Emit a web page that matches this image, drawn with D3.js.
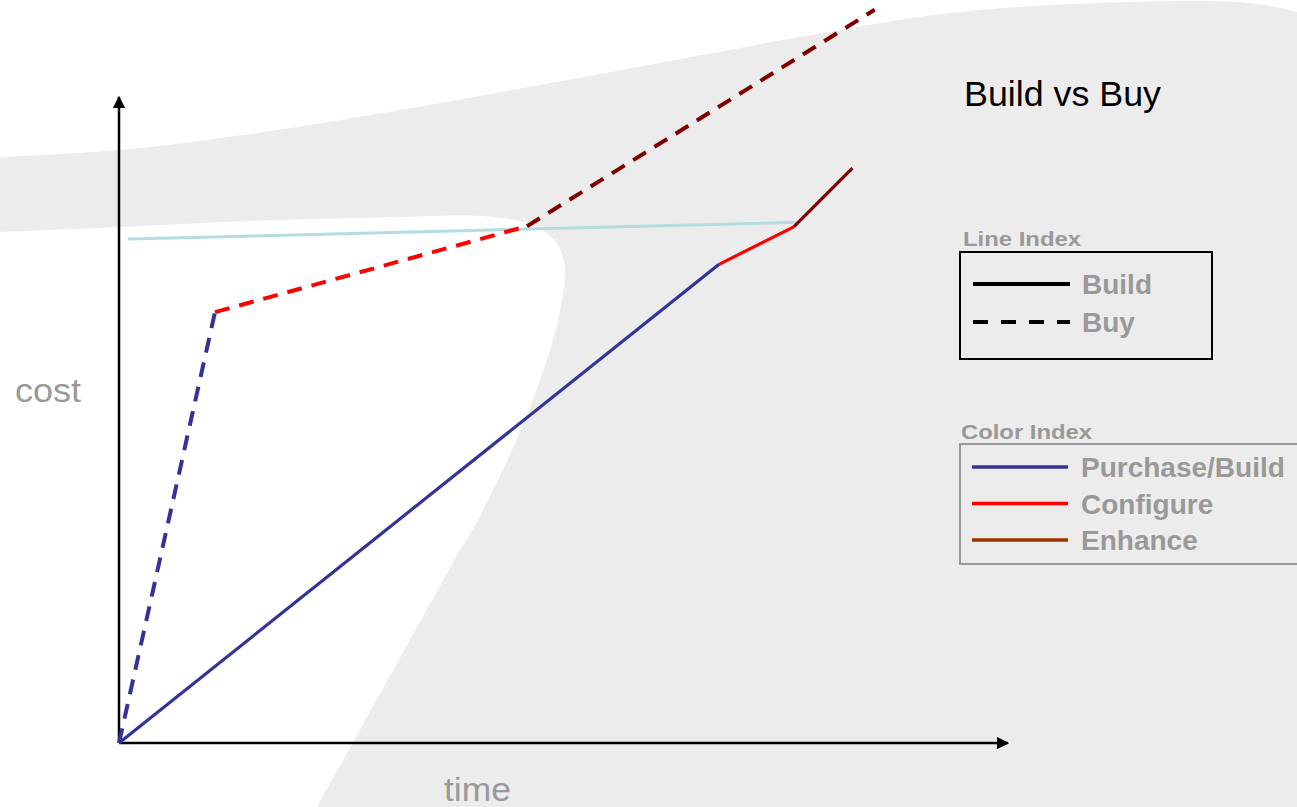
<!DOCTYPE html>
<html>
<head>
<meta charset="utf-8">
<script src="https://cdn.jsdelivr.net/npm/d3@7"></script>
<style>
	html, body { margin: 0; padding: 0; background: #ececec; overflow: hidden; }
	svg { display: block; font-family: "Liberation Sans", Arial, sans-serif; }
</style>
</head>
<body>
<div class="graphic"><div class="graphic__vis"></div></div>
<script>
// cost over time, in chart units (time 0..10, cost 0..10)
var buildPurchase = [[0, 0], [6.75, 7.41]]
var buildConfigure = [[6.75, 7.41], [7.59, 7.99]]
var buildEnhance = [[7.59, 7.99], [8.25, 8.9]]

var buyPurchase = [[0, 0], [1.08, 6.67]]
var buyConfigure = [[1.08, 6.67], [4.59, 8.0]]
var buyEnhance = [[4.59, 8.0], [8.5, 11.35]]

var breakEven = [[0.1, 7.8], [7.63, 8.06]]

var lineIndex = ['Build', 'Buy']
var colorIndex = ['Purchase/Build', 'Configure', 'Enhance']
var colorValues = ['#333399', '#ff0000', '#993300']

window.createGraphic = function() {
	var width = 1297
	var height = 807
	var origin = { x: 119, y: 743 }
	var grey = '#999999'

	var svg = d3.select('.graphic__vis').append('svg')
		.attr('width', width)
		.attr('height', height)

	// background swooshes (decoration only)
	var bgLine = d3.line().curve(d3.curveCatmullRom)
	var topShape = [[0, 157], [120, 150], [250, 134], [400, 110], [600, 74], [800, 37], [950, 13], [1100, 3], [1250, 3], [1297, 12]]
	svg.append('path')
		.attr('d', bgLine(topShape) + 'L1297,0L0,0Z')
		.attr('fill', '#ffffff')
	var swoosh = [[0, 232], [120, 227], [250, 221], [400, 217], [480, 216], [530, 224], [556, 242], [565, 268], [562, 300], [553, 340], [525, 420], [478, 520], [460, 550]]
	svg.append('path')
		.attr('d', bgLine(swoosh) + 'L317,807L0,807Z')
		.attr('fill', '#ffffff')

	var scaleX = d3.scaleLinear().domain([0, 10]).range([origin.x, 1008])
	var scaleY = d3.scaleLinear().domain([0, 10]).range([origin.y, 97])

	var line = d3.line()
		.x(function(d) { return scaleX(d[0]) })
		.y(function(d) { return scaleY(d[1]) })

	// axes with arrowheads
	var defs = svg.append('defs')
	defs.append('marker')
		.attr('id', 'arrow')
		.attr('viewBox', '0 0 10 10')
		.attr('refX', 9).attr('refY', 5)
		.attr('markerWidth', 5).attr('markerHeight', 5)
		.attr('markerUnits', 'strokeWidth')
		.attr('orient', 'auto')
		.append('path')
		.attr('d', 'M0,0L10,5L0,10Z')
		.attr('fill', '#000')

	svg.append('line')
		.attr('x1', scaleX(0)).attr('y1', scaleY(0))
		.attr('x2', scaleX(10)).attr('y2', scaleY(0))
		.attr('stroke', '#000').attr('stroke-width', 2.5)
		.attr('marker-end', 'url(#arrow)')
	svg.append('line')
		.attr('x1', scaleX(0)).attr('y1', scaleY(0))
		.attr('x2', scaleX(0)).attr('y2', scaleY(10))
		.attr('stroke', '#000').attr('stroke-width', 2.5)
		.attr('marker-end', 'url(#arrow)')

	svg.append('path')
		.attr('d', line(breakEven))
		.attr('fill', 'none').attr('stroke', '#b3dcdc').attr('stroke-width', 3)

	var buyData = [buyPurchase, buyConfigure, buyEnhance]
	var buyColors = ['#333399', '#ff0000', '#800000']
	buyData.forEach(function(seg, i) {
		svg.append('path')
			.attr('d', line(seg))
			.attr('fill', 'none')
			.attr('stroke', buyColors[i])
			.attr('stroke-width', 4)
			.attr('stroke-dasharray', '15,10')
	})

	var buildData = [buildPurchase, buildConfigure, buildEnhance]
	var buildColors = ['#333399', '#ff0000', '#800000']
	buildData.forEach(function(seg, i) {
		svg.append('path')
			.attr('d', line(seg))
			.attr('fill', 'none')
			.attr('stroke', buildColors[i])
			.attr('stroke-width', 3.2)
	})

	// labels
	svg.append('text').attr('x', 964).attr('y', 106)
		.attr('font-size', 35).attr('fill', '#000')
		.attr('textLength', 197).attr('lengthAdjust', 'spacingAndGlyphs').text('Build vs Buy')
	svg.append('text').attr('x', 15).attr('y', 402)
		.attr('font-size', 33).attr('fill', grey)
		.attr('textLength', 66).attr('lengthAdjust', 'spacingAndGlyphs').text('cost')
	svg.append('text').attr('x', 444).attr('y', 801)
		.attr('font-size', 33).attr('fill', grey)
		.attr('textLength', 67).attr('lengthAdjust', 'spacingAndGlyphs').text('time')

	// line index legend
	svg.append('text').attr('x', 963).attr('y', 246)
		.attr('font-size', 21).attr('font-weight', 'bold').attr('fill', grey)
		.attr('textLength', 118).attr('lengthAdjust', 'spacingAndGlyphs').text('Line Index')
	svg.append('rect').attr('x', 960).attr('y', 252).attr('width', 252).attr('height', 107)
		.attr('fill', 'none').attr('stroke', '#000').attr('stroke-width', 2)
	lineIndex.forEach(function(name, i) {
		var y = 284 + i * 38
		svg.append('line').attr('x1', 973).attr('x2', 1070).attr('y1', y).attr('y2', y)
			.attr('stroke', '#000').attr('stroke-width', 4)
			.attr('stroke-dasharray', i === 1 ? '15,13' : null)
		svg.append('text').attr('x', 1082).attr('y', y + 10)
			.attr('font-size', 28).attr('font-weight', 'bold').attr('fill', grey).text(name)
	})

	// color index legend
	svg.append('text').attr('x', 961).attr('y', 439)
		.attr('font-size', 21).attr('font-weight', 'bold').attr('fill', grey)
		.attr('textLength', 131).attr('lengthAdjust', 'spacingAndGlyphs').text('Color Index')
	svg.append('rect').attr('x', 960).attr('y', 444).attr('width', 345).attr('height', 120)
		.attr('fill', 'none').attr('stroke', grey).attr('stroke-width', 2)
	colorIndex.forEach(function(name, i) {
		var y = 467 + i * 36.5
		svg.append('line').attr('x1', 972).attr('x2', 1068).attr('y1', y).attr('y2', y)
			.attr('stroke', colorValues[i]).attr('stroke-width', 3.5)
		svg.append('text').attr('x', 1081).attr('y', y + 10)
			.attr('font-size', 28).attr('font-weight', 'bold').attr('fill', grey).text(name)
	})
}

createGraphic()
</script>
</body>
</html>
